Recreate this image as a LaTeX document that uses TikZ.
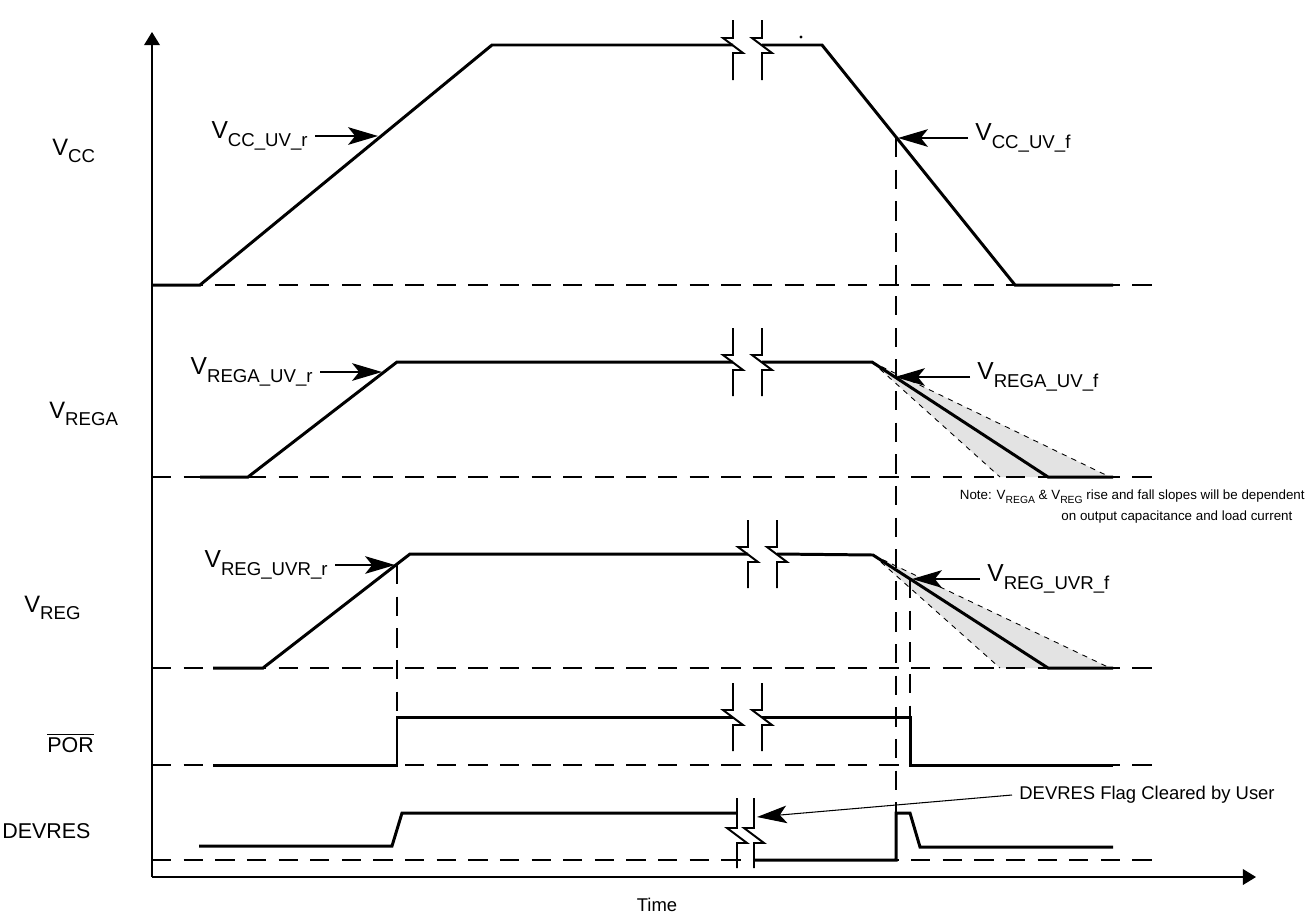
\documentclass[tikz,border=0pt]{standalone}
\usepackage{fontspec}
\setmainfont{Liberation Sans}
\usetikzlibrary{arrows.meta,positioning}
\newcommand{\subtxt}[1]{\raisebox{-0.3em}{\fontsize{10.6}{12}\selectfont #1}}
\newcommand{\subnote}[1]{\raisebox{-0.3em}{\fontsize{5.9}{7}\selectfont #1}}
\newcommand{\brk}[4]{\draw[brkline] (#1,#3) -- (#1,#2-7) -- (#1-10,#2-7) -- (#1+10,#2+8) -- (#1,#2+8) -- (#1,#4);}

\begin{document}
\begin{tikzpicture}[x=0.02cm,y=-0.02cm,
  sig/.style={line width=1.7pt,line join=miter},
  zero/.style={line width=1.1pt,dash pattern=on 11pt off 7pt},
  vguide/.style={line width=1.1pt,dash pattern=on 11pt off 7pt},
  brkline/.style={line width=1.1pt},
  axisline/.style={line width=0.7pt,-{Triangle[length=7.5pt,width=9pt]}},
  callout/.style={line width=1.1pt,-{Stealth[length=17pt,width=10pt,inset=4pt]}},
  flagline/.style={line width=0.6pt,-{Stealth[length=17pt,width=10pt,inset=4pt]}},
  spread/.style={fill=black!11,draw=none},
  spreadedge/.style={line width=0.5pt,dash pattern=on 3pt off 3pt},
  lbl/.style={font=\fontsize{13.5}{16}\selectfont,inner sep=0pt},
  sidelbl/.style={font=\fontsize{12.2}{15}\selectfont,inner sep=0pt},
  tag/.style={font=\fontsize{14}{16}\selectfont,inner sep=4pt},
  smalltxt/.style={font=\fontsize{10.5}{13}\selectfont,inner sep=4pt},
  notetxt/.style={font=\fontsize{7.6}{12}\selectfont,inner sep=0pt,align=right}]
   \useasboundingbox (0,0) rectangle (1312,920);

   \fill[spread] (872,362) -- (1000,477) -- (1110,477) -- cycle;
   \draw[spreadedge] (872,362) -- (1000,477) (872,362) -- (1110,477);
   \fill[spread] (873,555) -- (1000,668) -- (1110,668) -- cycle;
   \draw[spreadedge] (873,555) -- (1000,668) (873,555) -- (1110,668);

   \foreach \y in {285,477,668,765,860}
      \draw[zero] (152,\y) -- (1160,\y);
   \draw[vguide] (896,138) -- (896,813);
   \draw[vguide] (910,579) -- (910,717);
   \draw[vguide] (397,565) -- (397,765);

   \draw[axisline] (152,877) -- (152,32);
   \draw[axisline] (152,877) -- (1256,877);

   \draw[sig] (152,285) -- (200,285) -- (492,45) -- (733,45);
   \draw[sig] (762,45) -- (822,45) -- (1015,285) -- (1113,285);
   \brk{733}{45}{20}{80} \brk{762}{45}{20}{80}
   \fill (801,37) circle (1.6);

   \draw[sig] (200,477) -- (248,477) -- (397,362) -- (733,362);
   \draw[sig] (762,362) -- (872,362) -- (1048,477) -- (1113,477);
   \brk{733}{362}{328}{396} \brk{762}{362}{328}{396}

   \draw[sig] (213,668) -- (263,668) -- (410,554) -- (748,554);
   \draw[sig] (777,554) -- (873,555) -- (1048,668) -- (1113,668);
   \brk{748}{554}{520}{588} \brk{777}{554}{520}{588}

   \draw[sig] (213,765) -- (397,765) -- (397,717) -- (733,717);
   \draw[sig] (762,717) -- (910,717) -- (910,765) -- (1113,765);
   \brk{733}{717}{683}{751} \brk{762}{717}{683}{751}

   \draw[sig] (199,846) -- (392,846) -- (402,813) -- (737,813);
   \draw[sig] (754,860) -- (896,860) -- (896,813) -- (910,813) -- (920,847) -- (1113,847);
   \brk{737}{835}{798}{868} \brk{754}{835}{798}{868}

   \node[lbl,anchor=base west] (vcc) at (52,155) {V\subtxt{CC}};
   \node[lbl,anchor=base west] (vrega) at (49,418) {V\subtxt{REGA}};
   \node[lbl,anchor=base west] (vreg) at (24,612) {V\subtxt{REG}};
   \node[sidelbl,anchor=base west] (por) at (47,752) {$\overline{\mbox{POR}}$};
   \node[sidelbl,anchor=base west] (devres) at (2,838) {DEVRES};
   \node[smalltxt] (time) at (657,905) {Time};

   \node[tag,anchor=east] (ccuvr) at (315,136) {V\subtxt{CC\_UV\_r}};
   \coordinate (ccuvrtip) at (378,136);
   \draw[callout] (ccuvr.east) -- (ccuvrtip);
   \node[tag,anchor=west] (ccuvf) at (968,138) {V\subtxt{CC\_UV\_f}};
   \coordinate (ccuvftip) at (898,138);
   \draw[callout] (ccuvf.west) -- (ccuvftip);

   \node[tag,anchor=east] (regauvr) at (320,372) {V\subtxt{REGA\_UV\_r}};
   \coordinate (regauvrtip) at (382,372);
   \draw[callout] (regauvr.east) -- (regauvrtip);
   \node[tag,anchor=west] (regauvf) at (970,377) {V\subtxt{REGA\_UV\_f}};
   \coordinate (regauvftip) at (895,377);
   \draw[callout] (regauvf.west) -- (regauvftip);

   \node[tag,anchor=east] (reguvrr) at (335,565) {V\subtxt{REG\_UVR\_r}};
   \coordinate (reguvrrtip) at (395,565);
   \draw[callout] (reguvrr.east) -- (reguvrrtip);
   \node[tag,anchor=west] (reguvrf) at (980,579) {V\subtxt{REG\_UVR\_f}};
   \coordinate (reguvrftip) at (912,579);
   \draw[callout] (reguvrf.west) -- (reguvrftip);

   \node[smalltxt,anchor=west] (flag) at (1012,795) {DEVRES Flag Cleared by User};
   \coordinate (flagtip) at (757,817);
   \draw[flagline] (flag.west) -- (flagtip);

   \node[notetxt,anchor=north east] (note) at (1305,489)
      {Note: V\subnote{REGA} \& V\subnote{REG} rise and fall slopes will be dependent\\
       on output capacitance and load current\hspace*{7pt}};
\end{tikzpicture}
\end{document}
